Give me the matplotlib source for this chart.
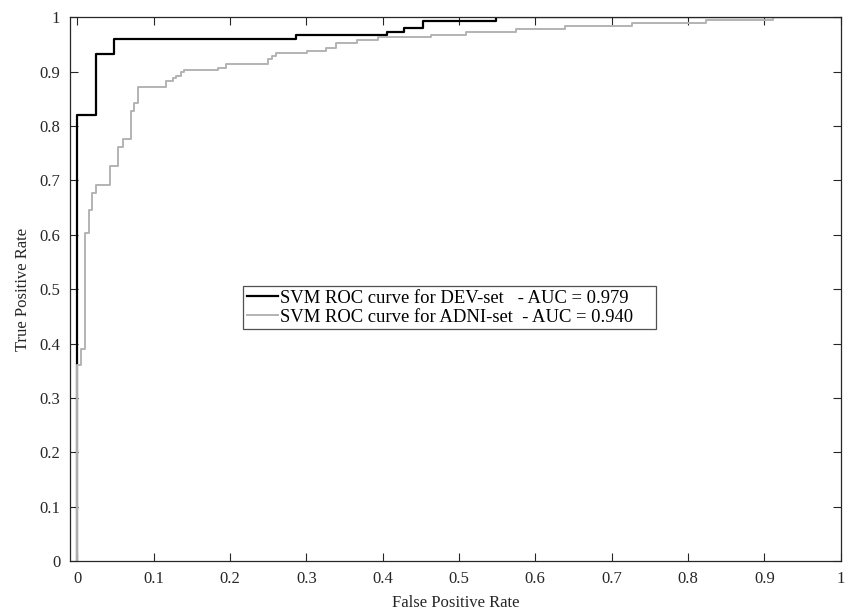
import matplotlib
matplotlib.use('Agg')
import matplotlib.pyplot as plt

plt.rcParams['font.family'] = ['Liberation Serif', 'DejaVu Serif']

# ROC steps (fpr where the curve jumps up, tpr after the jump)
dev_fpr = [0, 0, 0.0245, 0.0484, 0.287, 0.4055, 0.428, 0.4527, 0.548, 1.0]
dev_tpr = [0, 0.820, 0.933, 0.960, 0.967, 0.9725, 0.980, 0.9927, 1.0, 1.0]

adni_fpr = [0, 0, 0.0052, 0.0105, 0.0153, 0.020, 0.0245, 0.0432, 0.0528, 0.0606,
            0.0703, 0.0746, 0.0795, 0.1165, 0.1253, 0.1296, 0.1353, 0.1401, 0.185,
            0.195, 0.2505, 0.255, 0.260, 0.3016, 0.3257, 0.339, 0.3662, 0.394,
            0.463, 0.509, 0.5752, 0.639, 0.727, 0.8236, 0.9117, 1.0]
adni_tpr = [0, 0.361, 0.390, 0.604, 0.645, 0.677, 0.692, 0.727, 0.761, 0.777,
            0.8275, 0.843, 0.872, 0.883, 0.8875, 0.892, 0.8985, 0.9033, 0.907,
            0.9138, 0.924, 0.929, 0.9345, 0.938, 0.9437, 0.9535, 0.9584, 0.9633,
            0.968, 0.9737, 0.9786, 0.984, 0.9897, 0.995, 1.0, 1.0]

labels = ['SVM ROC curve for DEV-set   - AUC = 0.979    ',
          'SVM ROC curve for ADNI-set  - AUC = 0.940    ']

fig = plt.figure(figsize=(8.46, 6.15), dpi=100)
ax = fig.add_axes([0.0827, 0.0878, 0.9937 - 0.0827, 0.9719 - 0.0878])

ax.plot(dev_fpr, dev_tpr, drawstyle='steps-post', color='black', lw=1.6, label=labels[0])
ax.plot(adni_fpr, adni_tpr, drawstyle='steps-post', color='#b3b3b3', lw=1.4, label=labels[1])

ax.set_xlim(-0.0095, 1)
ax.set_ylim(0, 1)
ax.set_xticks([i / 10 for i in range(11)])
ax.set_yticks([i / 10 for i in range(11)])
ax.set_xticklabels(['0'] + ['%.1f' % (i / 10) for i in range(1, 10)] + ['1'])
ax.set_yticklabels(['0'] + ['%.1f' % (i / 10) for i in range(1, 10)] + ['1'])
ax.tick_params(direction='in', top=True, right=True, length=6, width=0.8,
               labelsize=12, pad=7, colors='#262626', labelcolor='#262626')
for s in ax.spines.values():
    s.set_linewidth(0.9)
    s.set_color('#262626')

ax.set_xlabel('False Positive Rate', fontsize=12, labelpad=6, color='#262626')
ax.set_ylabel('True Positive Rate', fontsize=12, labelpad=6, color='#262626')

leg = ax.legend(loc='upper left', bbox_to_anchor=(243 / 846, 1 - 286 / 615),
                bbox_transform=fig.transFigure, fontsize=13.4, frameon=True,
                fancybox=False, edgecolor='#262626', handlelength=1.7,
                handletextpad=0.1, borderpad=0.2, labelspacing=0.1,
                borderaxespad=0)
leg.get_frame().set_linewidth(0.9)

fig.savefig('out.png', dpi=100)
